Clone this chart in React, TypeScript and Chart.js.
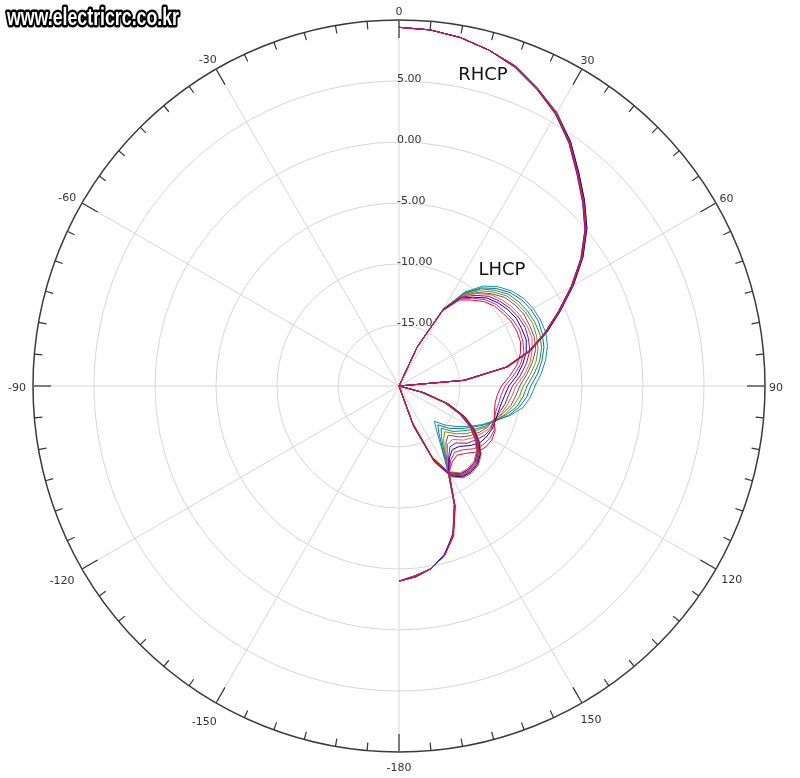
import React, { useEffect, useRef } from 'react';
import { Chart, registerables } from 'chart.js';

Chart.register(...registerables);

// ---- axis definitions ----
const thetaDeg = [
  0, 5, 10, 15, 20, 25, 30, 35, 40, 45, 50, 55, 60, 65, 70, 75, 80, 85, 90,
  95, 100, 105, 110, 115, 120, 125, 130, 135, 140, 145, 150, 155, 160, 165, 170, 175, 180,
  185, 190, 195, 200, 205, 210, 215, 220, 225, 230, 235, 240, 245, 250, 255, 260, 265, 270,
  275, 280, 285, 290, 295, 300, 305, 310, 315, 320, 325, 330, 335, 340, 345, 350, 355,
];
const radialMin = -20;
const radialMax = 10;
const radialStep = 5;
const angleTickLabels = ['0', '30', '60', '90', '120', '150', '-180', '-150', '-120', '-90', '-60', '-30'];
const seriesNames = ['RHCP', 'LHCP'];
const watermarkText = 'www.electricrc.co.kr';

// ---- RHCP traces (dB), theta 0..180 step 5 ----
const rhcp0 = [9.4, 9.3, 9.0, 8.5, 7.9, 6.9, 5.8, 4.4, 2.8, 1.4, 0.0, -1.7, -3.6, -5.5, -7.2, -8.9, -11.0, -14.6, -20, -20, -20, -18.0, -15.8, -14.2, -13.0, -12.1, -11.4, -11.0, -10.9, -11.0, -11.6, -13.3, -16.6, -20, -20, -20, -20];
const rhcp1 = [9.4, 9.3, 9.0, 8.5, 7.9, 6.9, 5.8, 4.4, 2.8, 1.4, 0.0, -1.7, -3.6, -5.5, -7.2, -8.9, -11.0, -14.6, -20, -20, -20, -18.1, -15.9, -14.3, -13.1, -12.2, -11.5, -11.1, -11.0, -11.1, -11.7, -13.4, -16.7, -20, -20, -20, -20];
const rhcp2 = [9.4, 9.3, 9.0, 8.5, 7.9, 6.9, 5.8, 4.5, 2.9, 1.5, 0.1, -1.6, -3.5, -5.4, -7.1, -8.9, -11.0, -14.6, -20, -20, -20, -17.9, -15.7, -14.1, -12.9, -12.0, -11.3, -10.9, -10.8, -10.9, -11.5, -13.2, -16.5, -20, -20, -20, -20];
const rhcp3 = [9.4, 9.3, 9.0, 8.5, 7.8, 6.8, 5.7, 4.3, 2.7, 1.3, -0.1, -1.8, -3.7, -5.6, -7.3, -9.0, -11.1, -14.7, -20, -20, -20, -18.2, -16.0, -14.4, -13.2, -12.3, -11.6, -11.2, -11.1, -11.2, -11.8, -13.5, -16.8, -20, -20, -20, -20];
const rhcp4 = [9.4, 9.3, 9.0, 8.5, 7.9, 6.9, 5.8, 4.4, 2.9, 1.5, 0.1, -1.6, -3.5, -5.4, -7.1, -8.8, -10.9, -14.5, -20, -20, -20, -17.8, -15.6, -14.0, -12.8, -11.9, -11.2, -10.8, -10.7, -10.8, -11.4, -13.1, -16.4, -20, -20, -20, -20];
const rhcp5 = [9.4, 9.3, 9.0, 8.5, 7.9, 6.9, 5.8, 4.4, 2.8, 1.4, 0.0, -1.7, -3.6, -5.5, -7.2, -8.9, -11.0, -14.6, -20, -20, -20, -18.1, -15.9, -14.3, -13.1, -12.2, -11.5, -11.1, -11.0, -11.1, -11.7, -13.4, -16.7, -20, -20, -20, -20];
const rhcp6 = [9.4, 9.3, 9.0, 8.5, 7.8, 6.8, 5.7, 4.3, 2.7, 1.3, -0.1, -1.8, -3.7, -5.6, -7.3, -9.0, -11.1, -14.7, -20, -20, -20, -18.3, -16.1, -14.5, -13.3, -12.4, -11.7, -11.3, -11.2, -11.3, -11.9, -13.6, -16.9, -20, -20, -20, -20];
const rhcp7 = [9.4, 9.3, 9.0, 8.5, 7.9, 6.9, 5.9, 4.5, 2.9, 1.5, 0.1, -1.6, -3.5, -5.4, -7.1, -8.8, -10.9, -14.5, -20, -20, -20, -17.9, -15.7, -14.1, -12.9, -12.0, -11.3, -10.9, -10.8, -10.9, -11.5, -13.2, -16.5, -20, -20, -20, -20];
const rhcp8 = [9.4, 9.3, 9.0, 8.5, 7.8, 6.8, 5.7, 4.3, 2.7, 1.3, -0.1, -1.8, -3.7, -5.6, -7.3, -9.0, -11.1, -14.7, -20, -20, -20, -18.2, -16.0, -14.4, -13.2, -12.3, -11.6, -11.2, -11.1, -11.2, -11.8, -13.5, -16.8, -20, -20, -20, -20];
const rhcp9 = [9.4, 9.3, 9.0, 8.5, 7.9, 6.9, 5.8, 4.4, 2.8, 1.4, 0.0, -1.7, -3.6, -5.5, -7.2, -8.9, -11.0, -14.6, -20, -20, -20, -18.0, -15.8, -14.2, -13.0, -12.1, -11.4, -11.0, -10.9, -11.0, -11.6, -13.3, -16.6, -20, -20, -20, -20];

// ---- LHCP traces (dB), theta 0..180 step 5 ----
const lhcp0 = [-20, -20, -20, -20, -20, -16.6, -12.9, -11.4, -10.8, -10.2, -9.8, -9.6, -9.4, -9.35, -9.4, -9.7, -10.2, -10.9, -11.6, -11.9, -12.0, -11.9, -11.7, -11.3, -11.2, -11.3, -11.6, -12.2, -12.6, -12.4, -11.8, -9.1, -6.9, -5.6, -4.8, -4.3, -4.0];
const lhcp1 = [-20, -20, -20, -20, -20, -16.5, -12.9, -11.3, -10.6, -10.0, -9.6, -9.4, -9.2, -9.1, -9.2, -9.4, -9.9, -10.6, -11.3, -11.6, -11.7, -11.8, -11.7, -11.4, -11.4, -11.6, -12.0, -12.6, -12.9, -12.6, -11.8, -9.2, -7.0, -5.6, -4.8, -4.4, -4.0];
const lhcp2 = [-20, -20, -20, -20, -20, -16.5, -12.8, -11.2, -10.5, -9.8, -9.4, -9.1, -8.9, -8.9, -8.9, -9.2, -9.7, -10.3, -11.0, -11.3, -11.5, -11.6, -11.6, -11.6, -11.7, -11.9, -12.4, -13.0, -13.2, -12.8, -11.8, -9.2, -7.0, -5.7, -4.8, -4.3, -4.0];
const lhcp3 = [-20, -20, -20, -20, -20, -16.5, -12.8, -11.1, -10.3, -9.6, -9.2, -8.9, -8.7, -8.6, -8.7, -8.9, -9.4, -10.0, -10.7, -11.0, -11.2, -11.5, -11.7, -11.7, -11.9, -12.3, -12.7, -13.4, -13.5, -12.9, -11.9, -9.1, -7.1, -5.6, -4.8, -4.4, -4.0];
const lhcp4 = [-20, -20, -20, -20, -20, -16.5, -12.8, -11.0, -10.1, -9.4, -9.0, -8.7, -8.5, -8.4, -8.4, -8.7, -9.1, -9.7, -10.4, -10.7, -11.0, -11.3, -11.7, -11.8, -12.2, -12.6, -13.1, -13.8, -13.8, -13.1, -11.9, -9.2, -7.0, -5.6, -4.8, -4.3, -4.0];
const lhcp5 = [-20, -20, -20, -20, -20, -16.5, -12.8, -11.0, -10.0, -9.3, -8.7, -8.4, -8.2, -8.2, -8.2, -8.4, -8.9, -9.5, -10.1, -10.4, -10.7, -11.2, -11.8, -12.0, -12.4, -12.9, -13.5, -14.3, -14.0, -13.3, -11.9, -9.3, -7.0, -5.6, -4.8, -4.4, -4.0];
const lhcp6 = [-20, -20, -20, -20, -20, -16.5, -12.7, -10.9, -9.8, -9.1, -8.5, -8.2, -8.0, -7.9, -8.0, -8.2, -8.6, -9.2, -9.8, -10.1, -10.5, -11.0, -11.7, -12.1, -12.7, -13.2, -13.9, -14.7, -14.3, -13.5, -11.9, -9.2, -7.1, -5.6, -4.8, -4.3, -4.0];
const lhcp7 = [-20, -20, -20, -20, -20, -16.5, -12.7, -10.8, -9.6, -8.9, -8.3, -8.0, -7.8, -7.7, -7.7, -7.9, -8.3, -8.9, -9.5, -9.8, -10.2, -10.9, -11.7, -12.2, -12.9, -13.6, -14.2, -15.1, -14.6, -13.6, -12.0, -9.2, -7.0, -5.6, -4.8, -4.4, -4.0];
const lhcp8 = [-20, -20, -20, -20, -20, -16.4, -12.7, -10.7, -9.5, -8.7, -8.1, -7.7, -7.5, -7.4, -7.5, -7.7, -8.1, -8.6, -9.2, -9.5, -10.0, -10.7, -11.6, -12.4, -13.2, -13.9, -14.6, -15.5, -14.9, -13.8, -12.0, -9.3, -7.1, -5.6, -4.8, -4.3, -4.0];
const lhcp9 = [-20, -20, -20, -20, -20, -16.4, -12.7, -10.6, -9.3, -8.5, -7.9, -7.5, -7.3, -7.2, -7.2, -7.4, -7.8, -8.3, -8.85, -9.2, -9.7, -10.6, -11.7, -12.5, -13.4, -14.2, -15.0, -15.9, -15.2, -14.0, -12.0, -9.2, -7.0, -5.6, -4.8, -4.4, -4.0];

const rhcpTraces = [rhcp0, rhcp1, rhcp2, rhcp3, rhcp4, rhcp5, rhcp6, rhcp7, rhcp8, rhcp9];
const lhcpTraces = [lhcp0, lhcp1, lhcp2, lhcp3, lhcp4, lhcp5, lhcp6, lhcp7, lhcp8, lhcp9];

// ---- styles ----
const traceColors = ['#e0102a', '#d02090', '#0000d0', '#a000a0', '#e07000', '#7040b0', '#8a8a00', '#00a040', '#2060c0', '#00a0a0'];

function pad(values: number[]): (number | null)[] {
  const out: (number | null)[] = values.slice();
  while (out.length < thetaDeg.length) out.push(null);
  return out;
}

const decorPlugin = {
  id: 'polarDecor',
  afterDraw(chart: any) {
    const scale = chart.scales.r;
    const ctx: CanvasRenderingContext2D = chart.ctx;
    const R = scale.drawingArea;
    ctx.save();

    // tick marks on the outer circle (every label step; major every 30 deg)
    ctx.strokeStyle = '#333';
    ctx.lineWidth = 1.2;
    for (let i = 0; i < thetaDeg.length; i++) {
      const len = thetaDeg[i] % 30 === 0 ? 18 : 8;
      const a = scale.getPointPosition(i, R);
      const b = scale.getPointPosition(i, R - len);
      ctx.beginPath();
      ctx.moveTo(a.x, a.y);
      ctx.lineTo(b.x, b.y);
      ctx.stroke();
    }

    // angle labels
    ctx.font = '11px "DejaVu Sans", sans-serif';
    ctx.fillStyle = '#333';
    ctx.textBaseline = 'middle';
    const stepsPer30 = thetaDeg.indexOf(30);
    angleTickLabels.forEach((t, j) => {
      const idx = j * stepsPer30;
      const ang = (thetaDeg[idx] * Math.PI) / 180;
      const s = Math.sin(ang);
      const c = Math.cos(ang);
      const leftSide = t.startsWith('-') && s < -0.1;
      const body = leftSide ? t.slice(1) : t;
      const w = ctx.measureText(body).width;
      const h = 8;
      const half = (Math.abs(s) * w) / 2 + (Math.abs(c) * h) / 2;
      const gap = 4 + 3 * Math.max(0, -s) + 6 * Math.max(0, -c);
      const p = scale.getPointPosition(idx, R + gap + half);
      const dy = j === 0 ? 0 : 2;
      if (leftSide) {
        ctx.textAlign = 'right';
        ctx.fillText(t, p.x + w / 2, p.y + dy);
      } else {
        ctx.textAlign = 'center';
        ctx.fillText(t, p.x, p.y + dy);
      }
    });

    // radial tick labels
    ctx.textAlign = 'left';
    scale.ticks.forEach((tk: any) => {
      if (tk.value <= radialMin || tk.value >= radialMax) return;
      const d = scale.getDistanceFromCenterForValue(tk.value);
      ctx.fillText(tk.value.toFixed(2), scale.xCenter - 2, scale.yCenter - d - 2);
    });

    // series annotations
    const anchors = [
      { deg: 15.1, dB: 6.4 },
      { deg: 41.6, dB: -7.3 },
    ];
    ctx.font = '18px "DejaVu Sans", sans-serif';
    ctx.fillStyle = '#111';
    ctx.textAlign = 'center';
    seriesNames.forEach((name, i) => {
      const a = anchors[i];
      const p = scale.getPointPosition(a.deg / 5, scale.getDistanceFromCenterForValue(a.dB));
      ctx.fillText(name, p.x, p.y);
    });

    // watermark (condensed by horizontal scaling)
    ctx.font = 'bold 23px "Liberation Sans", "DejaVu Sans", sans-serif';
    ctx.textAlign = 'left';
    ctx.textBaseline = 'alphabetic';
    const mw = ctx.measureText(watermarkText).width;
    const sx = 172 / mw;
    ctx.translate(7, 25);
    ctx.scale(sx, 1);
    ctx.lineJoin = 'round';
    ctx.lineWidth = 5;
    ctx.strokeStyle = '#000';
    ctx.strokeText(watermarkText, 0, 0);
    ctx.fillStyle = '#fff';
    ctx.fillText(watermarkText, 0, 0);

    ctx.restore();
  },
};

export default function App() {
  const ref = useRef<HTMLCanvasElement | null>(null);

  useEffect(() => {
    const canvas = ref.current;
    if (!canvas) return;
    const datasets: any[] = [];
    rhcpTraces.forEach((tr, k) => {
      datasets.push({
        label: `${seriesNames[0]} ${k + 1}`,
        data: pad(tr),
        borderColor: traceColors[k],
        backgroundColor: 'transparent',
        fill: false,
      });
    });
    lhcpTraces.forEach((tr, k) => {
      datasets.push({
        label: `${seriesNames[1]} ${k + 1}`,
        data: pad(tr),
        borderColor: traceColors[k],
        backgroundColor: 'transparent',
        fill: false,
      });
    });

    const chart = new Chart(canvas, {
      type: 'radar',
      data: { labels: thetaDeg.map(String), datasets },
      options: {
        responsive: true,
        maintainAspectRatio: false,
        animation: false,
        layout: { padding: { left: 33, right: 34, top: 20, bottom: 25 } },
        plugins: { legend: { display: false }, tooltip: { enabled: false } },
        elements: {
          point: { radius: 0, hoverRadius: 0 },
          line: { borderWidth: 1, tension: 0 },
        },
        scales: {
          r: {
            min: radialMin,
            max: radialMax,
            startAngle: 0,
            ticks: { display: false, stepSize: radialStep },
            pointLabels: { display: false },
            grid: {
              circular: true,
              color: (c: any) => (c.tick && c.tick.value === radialMax ? '#3a3a3a' : '#d6d6d6'),
              lineWidth: (c: any) => (c.tick && c.tick.value === radialMax ? 1.5 : 1),
            },
            angleLines: {
              color: (c: any) => (thetaDeg[c.index] % 30 === 0 ? '#d6d6d6' : 'rgba(0,0,0,0)'),
              lineWidth: 1,
            },
          },
        },
      } as any,
      plugins: [decorPlugin],
    });
    return () => chart.destroy();
  }, []);

  return (
    <div style={{ position: 'absolute', left: 0, top: 0, width: 800, height: 778, background: '#fff' }}>
      <canvas ref={ref} />
    </div>
  );
}
